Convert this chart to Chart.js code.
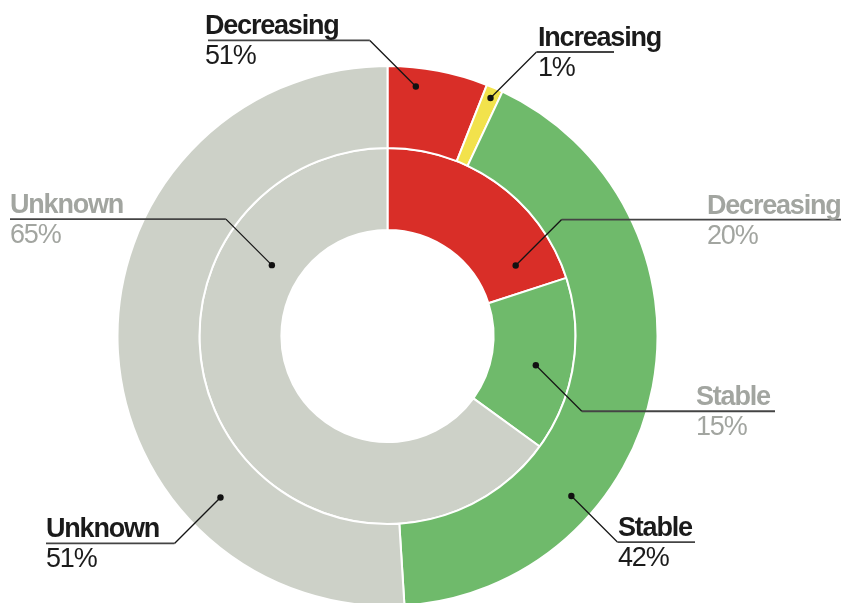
<!DOCTYPE html>
<html>
<head>
<meta charset="utf-8">
<script src="https://cdn.jsdelivr.net/npm/chart.js@4"></script>
<style>
  html, body { margin: 0; padding: 0; background: #fff; overflow: hidden; }
  canvas { display: block; }
</style>
</head>
<body>
<canvas id="chart" width="841" height="603"></canvas>
<script>
const categories = ['Decreasing', 'Increasing', 'Stable', 'Unknown'];
const outerValues = [6, 1, 42, 51];
const innerValues = [20, 0, 15, 65];
const outerTexts = ['51%', '1%', '42%', '51%'];
const innerTexts = ['20%', '', '15%', '65%'];
const sliceColors = ['#d92e28', '#f2e24c', '#6fba6b', '#cdd1c8'];

// callouts: ring 0 = outer, 1 = inner. t/u = spot inside the slice (angle / radius share)
const callouts = [
  { ring: 0, i: 0, t: 0.30, u: 0.77, dx: -1, dy: -1, textX: 205, lineX: 208 },
  { ring: 0, i: 1, t: 0.50, u: 0.87, dx: 1, dy: -1, textX: 538, lineX: 614 },
  { ring: 0, i: 2, t: 0.70, u: 0.68, dx: 1, dy: 1, textX: 618, lineX: 695 },
  { ring: 0, i: 3, t: 0.27, u: 0.54, dx: -1, dy: 1, textX: 46, lineX: 46 },
  { ring: 1, i: 0, t: 0.85, u: 0.49, dx: 1, dy: -1, textX: 707, lineX: 845 },
  { ring: 1, i: 2, t: 0.54, u: 0.55, dx: 1, dy: 1, textX: 696, lineX: 775 },
  { ring: 1, i: 3, t: 0.75, u: 0.36, dx: -1, dy: -1, textX: 10, lineX: 10 },
];

const calloutPlugin = {
  id: 'callouts',
  afterDraw(chart) {
    const ctx = chart.ctx;
    const fam = '"Helvetica Neue", Helvetica, "Liberation Sans", Arial, sans-serif';
    callouts.forEach(c => {
      const arc = chart.getDatasetMeta(c.ring).data[c.i];
      const p = arc.getProps(['x', 'y', 'startAngle', 'endAngle', 'innerRadius', 'outerRadius'], true);
      const a = p.startAngle + c.t * (p.endAngle - p.startAngle);
      const r = p.innerRadius + c.u * (p.outerRadius - p.innerRadius);
      const dx = p.x + r * Math.cos(a);
      const dy = p.y + r * Math.sin(a);
      const ex = dx + c.dx * 46;
      const ey = dy + c.dy * 46;

      ctx.save();
      ctx.strokeStyle = '#151515';
      ctx.lineWidth = 1.3;
      ctx.beginPath();
      ctx.moveTo(dx, dy);
      ctx.lineTo(ex, ey);
      ctx.stroke();

      ctx.strokeStyle = '#444';
      ctx.lineWidth = 1.8;
      ctx.beginPath();
      ctx.moveTo(ex, ey);
      ctx.lineTo(c.lineX, ey);
      ctx.stroke();

      ctx.fillStyle = '#111';
      ctx.beginPath();
      ctx.arc(dx, dy, 3.2, 0, Math.PI * 2);
      ctx.fill();

      const texts = c.ring === 0 ? outerTexts : innerTexts;
      ctx.fillStyle = c.ring === 0 ? '#1b1b1b' : '#a2a5a0';
      ctx.textAlign = 'left';
      ctx.textBaseline = 'alphabetic';
      ctx.letterSpacing = '-1.2px';
      ctx.font = 'bold 27px ' + fam;
      ctx.fillText(categories[c.i], c.textX, ey - 6);
      ctx.font = '27px ' + fam;
      ctx.fillText(texts[c.i], c.textX, ey + 24);
      ctx.restore();
    });
  }
};

new Chart(document.getElementById('chart'), {
  type: 'doughnut',
  data: {
    labels: categories,
    datasets: [
      { data: outerValues, backgroundColor: sliceColors, borderColor: '#fff', borderWidth: 2, hoverOffset: 0, clip: false },
      { data: innerValues, backgroundColor: sliceColors, borderColor: '#fff', borderWidth: 2, hoverOffset: 0, clip: false }
    ]
  },
  options: {
    responsive: false,
    animation: false,
    radius: 270,
    cutout: '39.3%',
    layout: { padding: { top: 69, bottom: 0, left: 0, right: 66 } },
    events: [],
    plugins: {
      legend: { display: false },
      tooltip: { enabled: false }
    }
  },
  plugins: [calloutPlugin]
});
</script>
</body>
</html>
